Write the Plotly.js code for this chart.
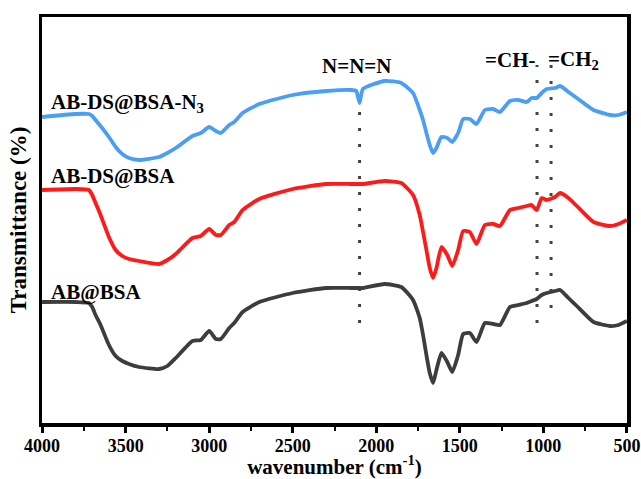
<!DOCTYPE html>
<html>
<head>
<meta charset="utf-8">
<script src="https://cdn.plot.ly/plotly-3.0.1.min.js"></script>
<style>html,body{margin:0;padding:0;background:#fff;}#chart{width:641px;height:479px;}</style>
</head>
<body>
<div id="chart"></div>
<script>
// Wavenumber (cm-1) sample points
const wavenumber = [4000,3800,3720,3700,3680,3650,3600,3560,3520,3480,3420,3300,3250,3200,3100,3050,3000,2960,2930,2880,2850,2800,2700,2500,2300,2150,2120,2100,2080,1950,1850,1780,1740,1720,1700,1680,1660,1640,1610,1575,1545,1510,1480,1440,1400,1350,1300,1260,1200,1150,1100,1070,1040,1010,980,930,900,850,800,700,600,550,500];

// Transmittance (arbitrary offset units)
const abDsBsaN3 = [306,309,309,307,303,297,286,276,269,265,263,266,270,275,287,290,296,292,290,298,301,310,319,328,332,333,332,320,334,342,340,330,313,303,290,278,270,275,286,285,281,290,304,304,299,313,314,311,322,323,321,325,325,330,334,335,337,331,325,313,308,308,311];
const abDsBsa = [233,234,233,228,220,208,186,173,167,164,162,159,163,169,185,187,194,188,188,198,201,213,224,234,239,239,239,239,239,242,240,228,208,191,173,155,145,155,176,168,157,173,192,191,179,198,199,197,213,215,217,218,213,225,223,226,230,225,217,201,197,199,203];
const abBsa = [121,121,120,116,108,98,78,67,62,59,56,54,57,65,82,83,92,84,84,95,100,111,121,130,135,135,135,135,135,139,136,123,105,88,68,50,40,53,70,61,51,68,89,90,81,100,99,98,116,118,120,122,124,128,130,132,133,125,117,101,97,98,102];

const seriesNames = ["AB-DS@BSA-N<sub>3</sub>", "AB-DS@BSA", "AB@BSA"];
const seriesColors = ["#4a9ff5", "#ff1a1a", "#3d3d3d"];

// Band positions for dotted marker lines
const bandPositions = [2100, 1038, 954];
const tickVals = [4000,3500,3000,2500,2000,1500,1000,500];
const tickText = tickVals.map(v => "<b>" + v + "</b>");

const traces = [abDsBsaN3, abDsBsa, abBsa].map((ys, i) => ({
  x: wavenumber, y: ys, type: "scatter", mode: "lines", name: seriesNames[i],
  line: {color: seriesColors[i], width: 3.8, shape: "spline", smoothing: 0.5},
  hoverinfo: "skip"
}));

const dotBottoms = [100, 100, 115];
const dotTops = [322, 358, 358];
const shapes = bandPositions.map((b, i) => ({
  type: "line", xref: "x", yref: "y", x0: b, x1: b, y0: dotBottoms[i], y1: dotTops[i],
  line: {color: "#444", width: 3, dash: "3px,13px"}, layer: "below"
}));

const font = "Liberation Serif";
const annotations = [
  {x: 2120, y: 357, text: "<b>N=N=N</b>"},
  {x: 1200, y: 363, text: "<b>=CH-</b>"},
  {x: 820, y: 363, text: "<b>=CH<sub>2</sub></b>"},
  {x: 3960, y: 320, text: "<b>AB-DS@BSA-N<sub>3</sub></b>", xanchor: "left"},
  {x: 3960, y: 247, text: "<b>AB-DS@BSA</b>", xanchor: "left"},
  {x: 3960, y: 131, text: "<b>AB@BSA</b>", xanchor: "left"}
].map(a => Object.assign({xref: "x", yref: "y", showarrow: false, xanchor: "center", yanchor: "middle",
  font: {family: font, size: 21, color: "#000"}}, a));

const layout = {
  width: 641, height: 479,
  margin: {l: 42, r: 14, t: 17, b: 56},
  paper_bgcolor: "#fff", plot_bgcolor: "#fff",
  font: {family: font, color: "#000"},
  showlegend: false,
  xaxis: {
    range: [4000.5, 499.5], tickvals: tickVals, ticktext: tickText, ticks: "outside", ticklen: 6, tickwidth: 3, tickcolor: "#000",
    ticklabelstandoff: -2,
    minor: {dtick: 250, ticks: "outside", ticklen: 4, tickwidth: 2, tickcolor: "#000"},
    showline: true, linewidth: 3.5, linecolor: "#000", mirror: true, showgrid: false, zeroline: false,
    tickfont: {family: font, size: 18, color: "#000"},
    title: {text: "<b>wavenumber (cm<sup>-1</sup>)</b>", font: {family: font, size: 21, color: "#000"}, standoff: 0}
  },
  yaxis: {
    range: [0, 406], showticklabels: false, ticks: "", showline: true, linewidth: 3.5, linecolor: "#000",
    mirror: true, showgrid: false, zeroline: false,
    title: {text: "<b>Transmittance (%)</b>", font: {family: font, size: 23, color: "#000"}, standoff: 6}
  },
  shapes: shapes,
  annotations: annotations
};

Plotly.newPlot("chart", traces, layout, {staticPlot: true, displayModeBar: false});
</script>
</body>
</html>
